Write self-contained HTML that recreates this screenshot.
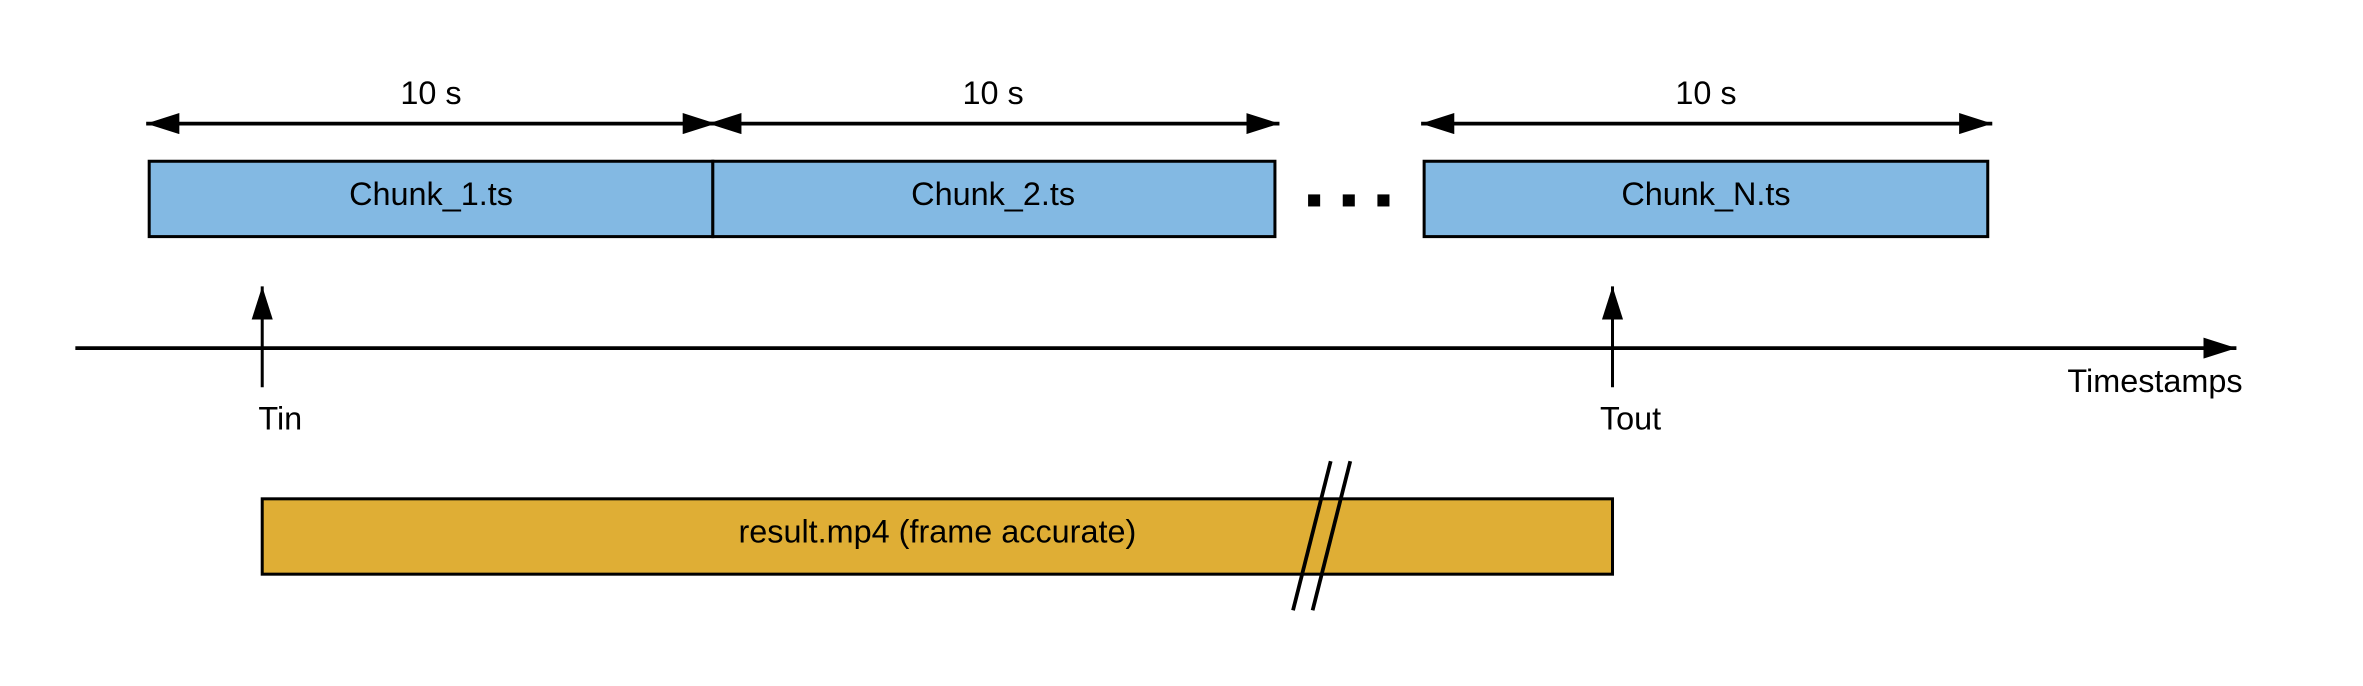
<!DOCTYPE html>
<html><head><meta charset="utf-8"><style>html,body{margin:0;padding:0;background:#fff}svg{display:block}</style></head>
<body>
<svg width="2363" height="686" viewBox="0 0 1568 455.2" preserveAspectRatio="none" xmlns="http://www.w3.org/2000/svg" font-family="Liberation Sans, sans-serif" font-size="21.5" fill="#000">
<defs>
<marker id="a" viewBox="0 0 22 14" refX="22" refY="7" markerWidth="22" markerHeight="14" markerUnits="userSpaceOnUse" orient="auto-start-reverse"><path d="M0,0 L22,7 L0,14 Z" fill="#000"/></marker>
</defs>
<rect width="1568" height="456" fill="#fff"/>
<g stroke="#000" stroke-width="2.5">
<line x1="97" y1="82" x2="475" y2="82" marker-start="url(#a)" marker-end="url(#a)"/>
<line x1="470" y1="82" x2="849" y2="82" marker-start="url(#a)" marker-end="url(#a)"/>
<line x1="943" y1="82" x2="1322" y2="82" marker-start="url(#a)" marker-end="url(#a)"/>
</g>
<text x="286" y="69" text-anchor="middle">10 s</text>
<text x="659" y="69" text-anchor="middle">10 s</text>
<text x="1132" y="69" text-anchor="middle">10 s</text>
<g stroke="#000" stroke-width="2" fill="#83b9e3">
<rect x="99" y="107" width="374" height="50"/>
<rect x="473" y="107" width="373" height="50"/>
<rect x="945" y="107" width="374" height="50"/>
</g>
<text x="286" y="136" text-anchor="middle">Chunk_1.ts</text>
<text x="659" y="136" text-anchor="middle">Chunk_2.ts</text>
<text x="1132" y="136" text-anchor="middle">Chunk_N.ts</text>
<rect x="868" y="129" width="8" height="8"/>
<rect x="891" y="129" width="8" height="8"/>
<rect x="914" y="129" width="8" height="8"/>
<g stroke="#000" stroke-width="2.5">
<line x1="50" y1="231" x2="1484" y2="231" marker-end="url(#a)"/>
</g>
<g stroke="#000" stroke-width="2">
<line x1="174" y1="257" x2="174" y2="190" marker-end="url(#a)"/>
<line x1="1070" y1="257" x2="1070" y2="190" marker-end="url(#a)"/>
</g>
<text x="186" y="285" text-anchor="middle">Tin</text>
<text x="1082" y="285" text-anchor="middle">Tout</text>
<text x="1430" y="260" text-anchor="middle">Timestamps</text>
<rect x="174" y="331" width="896" height="50" fill="#dfae35" stroke="#000" stroke-width="2"/>
<text x="622" y="360" text-anchor="middle">result.mp4 (frame accurate)</text>
<g stroke="#000" stroke-width="2.5">
<line x1="883" y1="306" x2="858" y2="405"/>
<line x1="896" y1="306" x2="871" y2="405"/>
</g>
</svg>
</body></html>
